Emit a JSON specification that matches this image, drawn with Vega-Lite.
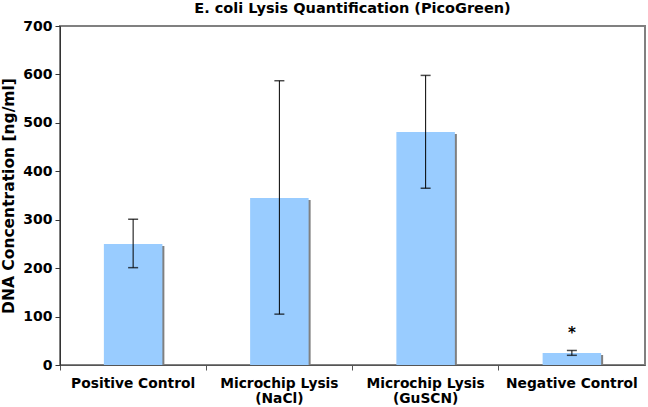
{
  "$schema": "https://vega.github.io/schema/vega-lite/v6.json",
  "autosize": "none",
  "width": 585,
  "height": 339,
  "padding": {"left": 60, "top": 26, "right": 3, "bottom": 42},
  "background": "white",
  "title": {"text": "E. coli Lysis Quantification (PicoGreen)", "font": "DejaVu Sans", "fontSize": 14.5, "fontWeight": "bold", "color": "#000", "offset": 3},
  "config": {
    "view": {"stroke": "#808080", "strokeWidth": 2},
    "axis": {"labelFont": "DejaVu Sans", "titleFont": "DejaVu Sans", "labelFontWeight": "bold", "titleFontWeight": "bold", "labelColor": "#000", "titleColor": "#000", "grid": false}
  },
  "data": {"values": [
    {"cat": "Positive Control", "mean": 250, "lo": 201, "hi": 301},
    {"cat": "Microchip Lysis (NaCl)", "mean": 345, "lo": 105, "hi": 587},
    {"cat": "Microchip Lysis (GuSCN)", "mean": 481, "lo": 365, "hi": 598},
    {"cat": "Negative Control", "mean": 25, "lo": 20, "hi": 30, "star": "*", "starY": 66}
  ]},
  "encoding": {
    "x": {"field": "cat", "type": "nominal", "sort": null, "title": null,
      "scale": {"paddingInner": 0, "paddingOuter": 0},
      "axis": {"labelAngle": 0, "labelFontSize": 13.8, "labelPadding": 6, "tickSize": 5, "bandPosition": 0, "domainColor": "#555", "tickColor": "#555",
        "labelExpr": "indexof(datum.label,'(')>0 ? [substring(datum.label,0,indexof(datum.label,'(')-1), substring(datum.label,indexof(datum.label,'('))] : datum.label"}}
  },
  "layer": [
    {
      "mark": {"type": "bar", "color": "#808080", "xOffset": 2, "yOffset": 2, "width": {"band": 0.4}, "clip": true},
      "encoding": {"y": {"field": "mean", "type": "quantitative"}}
    },
    {
      "mark": {"type": "bar", "color": "#99CCFF", "width": {"band": 0.4}},
      "encoding": {"y": {"field": "mean", "type": "quantitative", "title": "DNA Concentration [ng/ml]",
        "scale": {"domain": [0, 700]},
        "axis": {"values": [0, 100, 200, 300, 400, 500, 600, 700], "labelFontSize": 14, "titleFontSize": 15.5, "tickSize": 5, "labelPadding": 3, "titlePadding": 6, "domainColor": "#333", "tickColor": "#333"}}}
    },
    {
      "mark": {"type": "rule", "color": "#000", "strokeWidth": 1},
      "encoding": {"y": {"field": "lo", "type": "quantitative"}, "y2": {"field": "hi"}}
    },
    {
      "mark": {"type": "tick", "color": "#000", "size": 10, "thickness": 1.5},
      "encoding": {"y": {"field": "lo", "type": "quantitative"}}
    },
    {
      "mark": {"type": "tick", "color": "#000", "size": 10, "thickness": 1.5},
      "encoding": {"y": {"field": "hi", "type": "quantitative"}}
    },
    {
      "mark": {"type": "text", "font": "DejaVu Sans", "fontSize": 15, "fontWeight": "bold", "color": "#000", "baseline": "middle"},
      "encoding": {"y": {"field": "starY", "type": "quantitative"}, "text": {"field": "star"}}
    }
  ]
}
